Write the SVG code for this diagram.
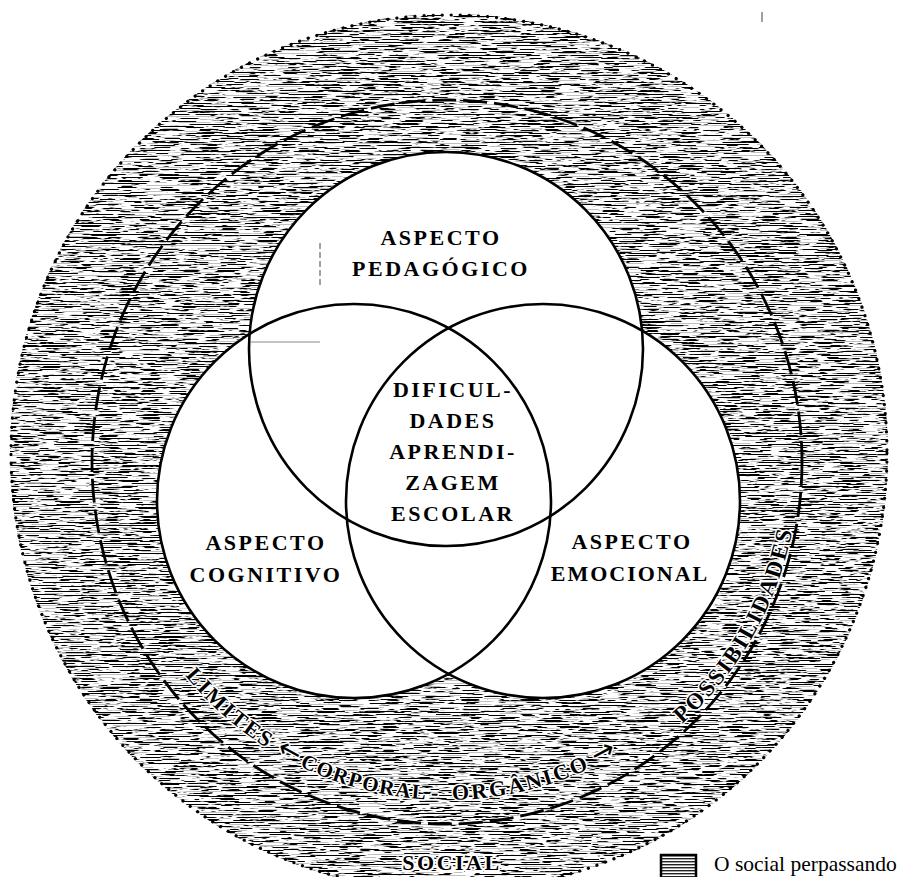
<svg xmlns="http://www.w3.org/2000/svg" width="911" height="877" viewBox="0 0 911 877">
  <style>
    .lbl { font-family: "Liberation Serif", "DejaVu Serif", serif; font-size: 22px; font-weight: bold; letter-spacing: 2.5px; text-anchor: middle; fill: #000; }
    .arc { font-family: "Liberation Serif", "DejaVu Serif", serif; font-size: 22px; font-weight: bold; letter-spacing: 2.5px; fill: #000; stroke: #fff; stroke-width: 3px; stroke-linejoin: round; paint-order: stroke; }
    .arrow { font-family: "DejaVu Sans", sans-serif; font-size: 28px; font-weight: normal; letter-spacing: 0; }
    .outline { fill: none; stroke: #000; stroke-width: 2.6; }
    .legend { font-family: "Liberation Serif", "DejaVu Serif", serif; font-size: 21.5px; fill: #000; }
  </style>
  <defs>
    <!-- horizontal streaky halftone used for the social field -->
    <filter id="grain" x="0" y="0" width="100%" height="100%" color-interpolation-filters="sRGB">
      <feTurbulence type="fractalNoise" baseFrequency="0.05 0.9" numOctaves="3" seed="7" result="noise"/>
      <feColorMatrix in="noise" type="matrix" values="0 0 0 0 0  0 0 0 0 0  0 0 0 0 0  -14 0 0 0 7.18" result="ink"/>
      <feComposite in="ink" in2="SourceAlpha" operator="in"/>
    </filter>
    <!-- scan-line screen laid over the field -->
    <pattern id="scan" width="8" height="3" patternUnits="userSpaceOnUse">
      <rect y="2" width="8" height="1" fill="#fff" opacity="0.75"/>
    </pattern>
    <pattern id="hlines" width="6" height="3" patternUnits="userSpaceOnUse">
      <rect width="6" height="3" fill="#fff"/>
      <rect y="0" width="6" height="1.4" fill="#222"/>
    </pattern>
    <path id="arcLow" d="M 109 462 A 338 338 0 0 0 785 462"/>
    <path id="arcRight" d="M 95 462 A 352 352 0 0 0 799 462"/>
  </defs>

  <rect width="911" height="877" fill="#fff"/>

  <!-- social field: textured disc with dotted rim -->
  <g id="social">
    <circle cx="449" cy="453" r="439" fill="#000" filter="url(#grain)"/>
    <circle cx="449" cy="453" r="439" fill="url(#scan)"/>
    <circle cx="449" cy="453" r="438" fill="none" stroke="#000" stroke-width="3.2" stroke-linecap="round" stroke-dasharray="0.1 9"/>
    <ellipse cx="447" cy="462" rx="355" ry="362" fill="none" stroke="#000" stroke-width="2.8" stroke-dasharray="24 7"/>
    <text class="arc" x="452" y="870" text-anchor="middle" style="stroke-width:4px">SOCIAL</text>
  </g>

  <!-- white discs of the three aspects -->
  <g id="venn-fills" fill="#fff">
    <circle cx="446" cy="349" r="197"/>
    <circle cx="354" cy="501" r="197"/>
    <circle cx="543" cy="501" r="197"/>
  </g>

  <g id="aspecto-pedagogico">
    <circle class="outline" cx="446" cy="349" r="197"/>
    <text class="lbl" x="441" y="245">ASPECTO</text>
    <text class="lbl" x="441" y="276">PEDAGÓGICO</text>
  </g>

  <g id="aspecto-cognitivo">
    <circle class="outline" cx="354" cy="501" r="197"/>
    <text class="lbl" x="266" y="550">ASPECTO</text>
    <text class="lbl" x="266" y="582">COGNITIVO</text>
  </g>

  <g id="aspecto-emocional">
    <circle class="outline" cx="543" cy="501" r="197"/>
    <text class="lbl" x="632" y="549">ASPECTO</text>
    <text class="lbl" x="630" y="581" style="letter-spacing:2px">EMOCIONAL</text>
  </g>

  <g id="dificuldades">
    <text class="lbl" x="453" y="397">DIFICUL-</text>
    <text class="lbl" x="453" y="428">DADES</text>
    <text class="lbl" x="453" y="459">APRENDI-</text>
    <text class="lbl" x="453" y="490">ZAGEM</text>
    <text class="lbl" x="453" y="521">ESCOLAR</text>
  </g>

  <!-- limits / possibilities axis running round the bottom -->
  <g id="connectors">
    <text class="arc"><textPath href="#arcLow" startOffset="231">LIMITES<tspan class="arrow" dx="8">←</tspan><tspan dx="4" style="font-size:21px;letter-spacing:1.5px">CORPORAL</tspan><tspan dx="4">-</tspan><tspan dx="12">ORGÂNICO</tspan><tspan class="arrow" dx="6">→</tspan></textPath></text>
    <text class="arc" text-anchor="middle" style="font-size:23px"><textPath href="#arcRight" startOffset="924">POSSIBILIDADES</textPath></text>
  </g>

  <!-- faint stray marks -->
  <g id="marks" stroke="#444" stroke-width="1">
    <line x1="320" y1="243" x2="320" y2="287" stroke-dasharray="6 3"/>
    <line x1="250" y1="342" x2="320" y2="342" stroke="#888"/>
    <line x1="762" y1="12" x2="762" y2="22"/>
  </g>

  <g id="legenda">
    <rect x="661" y="855" width="35" height="30" fill="url(#hlines)" stroke="#000" stroke-width="2.5"/>
    <text class="legend" x="714" y="871">O social perpassando</text>
  </g>
</svg>
